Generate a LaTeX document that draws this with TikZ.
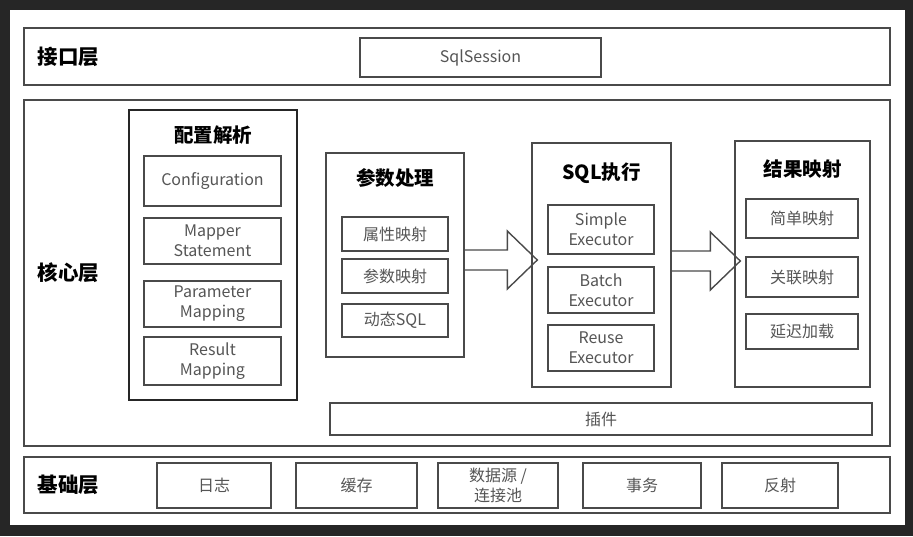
\documentclass[tikz,border=0pt]{standalone}
\usepackage{fontspec}
\setmainfont{Noto Sans CJK SC}
\usetikzlibrary{calc}

\definecolor{framebg}{HTML}{262626}
\definecolor{boxline}{HTML}{4A4A4A}
\definecolor{itemtext}{HTML}{555555}

\tikzset{
  layer/.style={draw=boxline, line width=1.6pt, minimum width=866, inner sep=0pt},
  layerlabel/.style={anchor=west, font=\fontsize{20.5}{24}\selectfont\bfseries},
  group/.style={draw=boxline, line width=1.4pt, inner sep=0pt},
  grouptitle/.style={font=\fontsize{19.5}{23}\selectfont\bfseries},
  item/.style={draw=boxline, line width=1.4pt, inner sep=0pt, align=center,
    text=itemtext, font=\fontsize{16}{20}\selectfont},
  bigarrow/.style={draw=boxline, line width=1.4pt, line join=miter}
}

% block arrow from the east side of #1 to the west side of #2, centred at height #3
\newcommand{\blockarrow}[3]{%
  \draw[bigarrow] ($(#1.east |- 0,#3)+(0,-10)$) -- ($(#2.west |- 0,#3)+(-24,-10)$)
    -- ($(#2.west |- 0,#3)+(-24,-29)$) -- ($(#2.west |- 0,#3)+(6,0)$)
    -- ($(#2.west |- 0,#3)+(-24,29)$) -- ($(#2.west |- 0,#3)+(-24,10)$)
    -- ($(#1.east |- 0,#3)+(0,10)$);}

\begin{document}
\begin{tikzpicture}[x=1pt, y=-1pt]
\useasboundingbox (0,0) rectangle (913,536);
\fill[framebg] (0,0) rectangle (913,536);
\fill[white] (10,10) rectangle (905,525);

% interface layer
\node[layer, minimum height=57] (iface) at (457,56.5) {};
\node[layerlabel] (ifacelabel) at (34,56.5) {接口层};
\node[item, minimum width=241, minimum height=39] (session) at (480.5,57.5) {SqlSession};

% core layer
\node[layer, minimum height=346] (core) at (457,273) {};
\node[layerlabel] (corelabel) at (34,273) {核心层};

% configuration parsing
\node[group, draw=black!85, line width=2.2pt, minimum width=168, minimum height=290] (cfg) at (213,255) {};
\node[grouptitle] (cfgtitle) at (213,135) {配置解析};
\node[item, minimum width=137, minimum height=50] (config) at (212.5,181) {Configuration};
\node[item, minimum width=137, minimum height=46] (mapstmt) at (212.5,241) {Mapper\\Statement};
\node[item, minimum width=137, minimum height=46] (parmap) at (212.5,304) {Parameter\\Mapping};
\node[item, minimum width=137, minimum height=48] (resmap) at (212.5,361) {Result\\Mapping};

% parameter handling
\node[group, minimum width=138, minimum height=204] (param) at (395,255) {};
\node[grouptitle] (paramtitle) at (395,178) {参数处理};
\node[item, minimum width=106, minimum height=34] (attrmap) at (395,234) {属性映射};
\node[item, minimum width=106, minimum height=34] (argmap) at (395,276) {参数映射};
\node[item, minimum width=106, minimum height=33] (dynsql) at (395,320.5) {动态SQL};

% sql execution
\node[group, minimum width=139, minimum height=244] (sqlexec) at (601.5,265) {};
\node[grouptitle] (sqltitle) at (601.5,173) {SQL执行};
\node[item, minimum width=106, minimum height=49] (simple) at (601,229.5) {Simple\\Executor};
\node[item, minimum width=106, minimum height=46] (batch) at (601,290) {Batch\\Executor};
\node[item, minimum width=106, minimum height=46] (reuse) at (601,348) {Reuse\\Executor};

% result mapping
\node[group, minimum width=135, minimum height=246] (result) at (802.5,264) {};
\node[grouptitle] (resulttitle) at (802.5,169) {结果映射};
\node[item, minimum width=112, minimum height=39] (simplemap) at (802,218.5) {简单映射};
\node[item, minimum width=112, minimum height=40] (joinmap) at (802,277) {关联映射};
\node[item, minimum width=112, minimum height=35] (lazyload) at (802,331.5) {延迟加载};

\node[item, minimum width=542, minimum height=32] (plugin) at (601,419) {插件};

\blockarrow{param}{sqlexec}{260}
\blockarrow{sqlexec}{result}{261}

% base layer
\node[layer, minimum height=56] (base) at (457,485) {};
\node[layerlabel] (baselabel) at (34,485) {基础层};
\node[item, minimum width=114, minimum height=45] (logging) at (214,485.5) {日志};
\node[item, minimum width=121, minimum height=45] (cache) at (356.5,485.5) {缓存};
\node[item, minimum width=120, minimum height=45] (datasource) at (498,485.5) {数据源 /\\连接池};
\node[item, minimum width=118, minimum height=45] (transaction) at (642,485.5) {事务};
\node[item, minimum width=116, minimum height=45] (reflection) at (780,485.5) {反射};
\end{tikzpicture}
\end{document}
